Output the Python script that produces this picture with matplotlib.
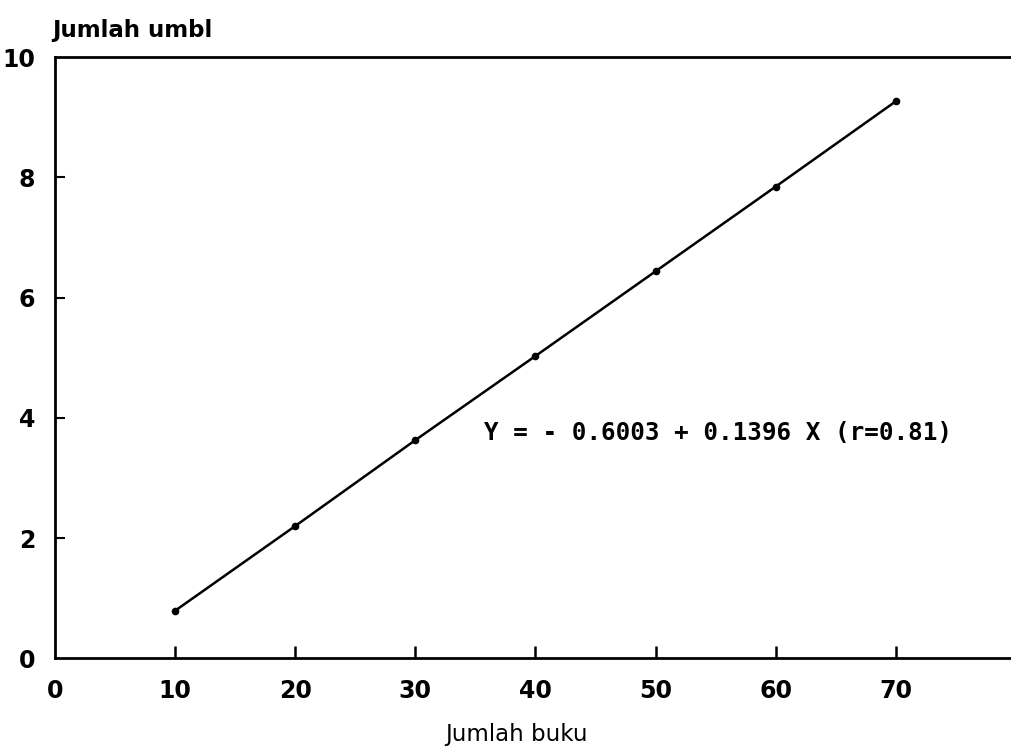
import matplotlib
matplotlib.use("Agg")
import matplotlib.pyplot as plt

jumlah_buku = [10, 20, 30, 40, 50, 60, 70]
jumlah_umbi = [0.79, 2.20, 3.63, 5.03, 6.44, 7.85, 9.27]
x_ticks = [0, 10, 20, 30, 40, 50, 60, 70]
y_ticks = [0, 2, 4, 6, 8, 10]
equation = "Y = - 0.6003 + 0.1396 X (r=0.81)"

label_font = "DejaVu Sans"

W, H = 1012, 751
fig = plt.figure(figsize=(W / 100, H / 100), dpi=100)
left, right = 54.8 / W, 1.0
bottom, top = (H - 658.3) / H, (H - 57.3) / H
ax = fig.add_axes([left, bottom, right - left, top - bottom])

ax.plot(jumlah_buku, jumlah_umbi, color="black", lw=1.8, marker="o", ms=4.5)

ax.set_xlim(0, (1012 - 54.8) / 12.017)
ax.set_ylim(0, 10)

ax.spines["right"].set_visible(False)
for s in ["left", "bottom", "top"]:
    ax.spines[s].set_linewidth(2.0)

tick_size = 17
ax.set_xticks(x_ticks)
ax.set_yticks(y_ticks)
ax.set_xticklabels([str(v) for v in x_ticks], family=label_font, fontsize=tick_size, fontweight="bold")
ax.set_yticklabels([str(v) for v in y_ticks], family=label_font, fontsize=tick_size, fontweight="bold")
ax.tick_params(axis="x", direction="in", length=9, width=1.8, pad=15)
ax.tick_params(axis="y", direction="in", length=7, width=1.5, pad=14)
ax.xaxis.get_major_ticks()[0].tick1line.set_visible(False)
for i in [0, len(y_ticks) - 1]:
    ax.yaxis.get_major_ticks()[i].tick1line.set_visible(False)

ax.text(35.7, 3.75, equation, family="DejaVu Sans Mono", fontweight="bold",
        fontsize=17.5, va="center", ha="left")

title_size = 16.5
fig.text(52 / W, 1 - 30 / H, "Jumlah umbl", family=label_font, fontsize=title_size,
         fontweight="bold", ha="left", va="center")
fig.text(516 / W, 1 - 735 / H, "Jumlah buku", family=label_font, fontsize=title_size,
         ha="center", va="center")

fig.savefig("out.png", dpi=100)
